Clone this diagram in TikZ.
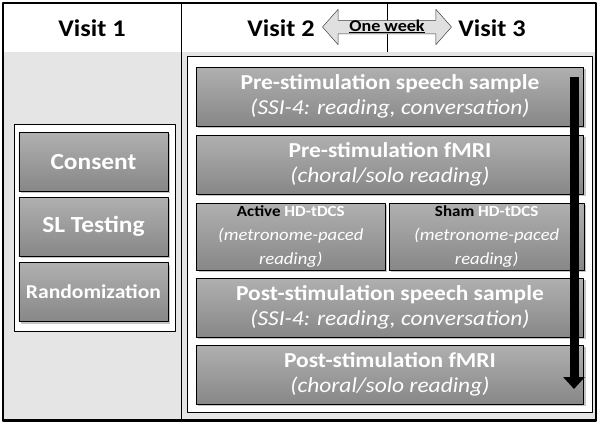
\documentclass[tikz,border=0pt]{standalone}
\usepackage{fontspec}
\setmainfont{Carlito}[FakeStretch=1.1]
\usetikzlibrary{arrows.meta,shapes.arrows,shadows}

\begin{document}
\begin{tikzpicture}[x=1bp,y=-1bp,line join=round,
	stepbox/.style={draw=black,line width=0.8bp,top color=black!31,bottom color=black!47,
		drop shadow={shadow xshift=2bp,shadow yshift=-2bp,fill=black!45,opacity=0.5},
		text=white,align=center,inner sep=0pt},
	leftbox/.style={stepbox,minimum width=149bp,minimum height=59bp,font=\fontsize{23.2}{26}\selectfont\bfseries},
	widebox/.style={stepbox,minimum width=387.6bp,minimum height=59bp,font=\fontsize{21.4}{25.5}\selectfont},
	halfbox/.style={stepbox,minimum height=67bp,font=\fontsize{17}{24.5}\selectfont},
	visit/.style={font=\fontsize{24}{26}\selectfont\bfseries},
	framebox/.style={draw=black,fill=white,line width=0.8bp}]
	\useasboundingbox (0,0) rectangle (600,426);
	\fill[white] (0,0) rectangle (600,426);
	\fill[black!10] (3,52) rectangle (596,421);
	%\draw[color=gray!50,dashed] (0,0) grid[step=50] (600,426);
	\draw[framebox] (14,124) rectangle (175,331);
	\draw[framebox] (187.7,56.7) rectangle (592.7,412.7);
	\draw[line width=0.8bp] (181.7,3) -- (181.7,421);
	\draw[line width=0.8bp] (387,3) -- (387,52);
	\draw[line width=1.2bp] (3,3) rectangle (596,421);
	\draw[line width=3bp] (3,420) -- (596,420);
	% header
	\node[visit] (v1) at (92,28) {Visit 1};
	\node[visit] (v2) at (281,28) {Visit 2};
	\node[visit] (v3) at (492,28) {Visit 3};
	\node[double arrow,draw=black!75,fill=black!12,line width=0.5bp,minimum height=129bp,
		double arrow head extend=11bp,double arrow tip angle=97,inner xsep=0pt,inner ysep=0pt,
		text height=10.5bp,text depth=2.5bp,font=\fontsize{16.5}{18}\selectfont\bfseries] (week) at (387,27) {\underline{One week}};
	% visit 1
	\node[leftbox] (consent) at (93.5,161.5) {Consent};
	\node[leftbox] (sltest) at (93.5,226.5) {SL Testing};
	\node[leftbox,font=\fontsize{19.7}{22}\selectfont\bfseries] (random) at (93.5,292) {Randomization};
	% visits 2 and 3
	\node[widebox] (prespeech) at (390,96.5) {{\bfseries Pre-stimulation speech sample}\\{\itshape (SSI-4: reading, conversation)}};
	\node[widebox] (prefmri) at (390,164.5) {{\bfseries Pre-stimulation fMRI}\\{\itshape (choral/solo reading)}};
	\node[halfbox,minimum width=188.3bp] (active) at (290.8,236.5) {{\bfseries\fontsize{15.5}{24.5}\selectfont\textcolor{black}{Active} HD-tDCS}\\{\itshape (metronome-paced}\\{\itshape reading)}};
	\node[halfbox,minimum width=195.3bp] (sham) at (486.7,236.5) {{\bfseries\fontsize{15.5}{24.5}\selectfont\textcolor{black}{Sham} HD-tDCS}\\{\itshape (metronome-paced}\\{\itshape reading)}};
	\node[widebox] (postspeech) at (390,307.5) {{\bfseries Post-stimulation speech sample}\\{\itshape (SSI-4: reading, conversation)}};
	\node[widebox] (postfmri) at (390,374.5) {{\bfseries Post-stimulation fMRI}\\{\itshape (choral/solo reading)}};
	\coordinate (flowtop) at (574,77);
	\coordinate (flowend) at (574,389);
	\draw[line width=9bp,-{Triangle[width=21bp,length=12bp]}] (flowtop) -- (flowend);
\end{tikzpicture}
\end{document}
